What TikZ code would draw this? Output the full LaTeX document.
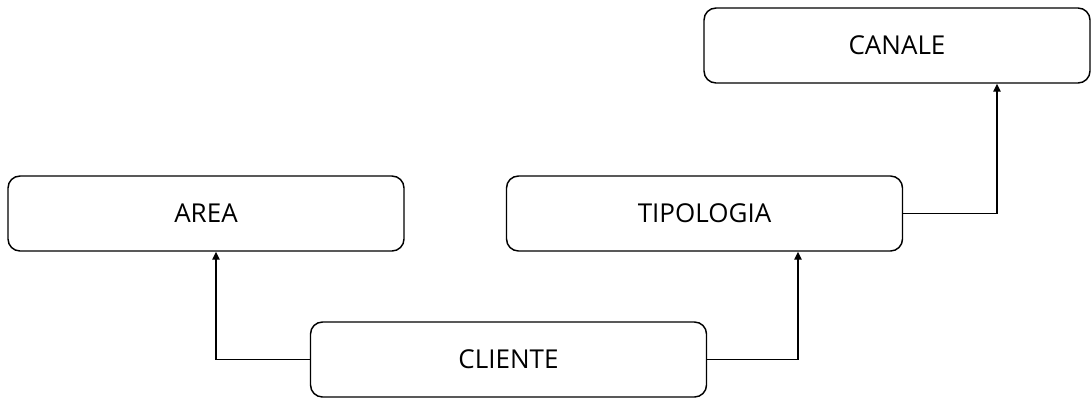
\documentclass[tikz,border=0pt]{standalone}
\usepackage{fontspec}
\setmainfont{Open Sans}
\usetikzlibrary{arrows.meta}
\begin{document}
\begin{tikzpicture}[x=0.75pt,y=-0.75pt,
  entity/.style={draw, line width=1.1pt, rounded corners=9pt, minimum width=396*0.75pt,
    minimum height=75*0.75pt, inner sep=0pt, font=\fontsize{19.5}{23}\selectfont},
  link/.style={draw, line width=1.1pt, -{Triangle[length=6pt,width=5.5pt]}}]
  \useasboundingbox (0,0) rectangle (1092,400);
  \node[entity, minimum width=386*0.75pt] (canale) at (897,45.5) {CANALE};
  \node[entity] (area) at (206,213.5) {AREA};
  \node[entity] (tipologia) at (704.5,213.5) {TIPOLOGIA};
  \node[entity] (cliente) at (508.5,359.5) {CLIENTE};
  \draw[link] (cliente.west) -| (area.south -| 216,0);
  \draw[link] (cliente.east) -| (tipologia.south -| 798,0);
  \draw[link] (tipologia.east) -| (canale.south -| 997,0);
\end{tikzpicture}
\end{document}
